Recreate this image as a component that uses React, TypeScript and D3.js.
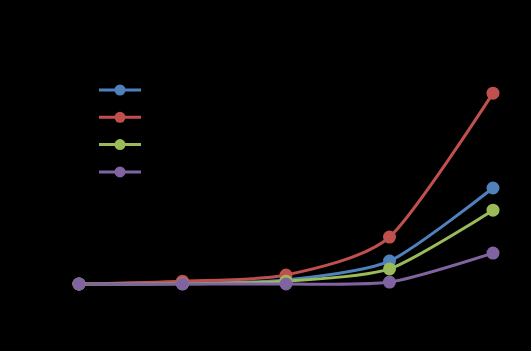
import React from "react";
import * as d3 from "d3";

const width = 531;
const height = 351;
const margin = { top: 55, right: 38, bottom: 67, left: 79 };

const categories = ["1", "2", "3", "4", "5"];
const seriesNames = ["Series 1", "Series 2", "Series 3", "Series 4"];
const seriesColors = ["#4F81BD", "#C0504D", "#9BBB59", "#8064A2"];

const blueValues = [0, 0.2, 2.1, 12, 50.3];
const redValues = [0, 1.5, 4.7, 24.6, 100];
const greenValues = [0, 0.1, 1.5, 7.9, 38.7];
const purpleValues = [0, 0, 0, 1, 16.2];

const allValues = [blueValues, redValues, greenValues, purpleValues];

const xScale = d3
  .scalePoint<string>()
  .domain(categories)
  .range([margin.left, width - margin.right]);

const yScale = d3
  .scaleLinear()
  .domain([0, 120])
  .range([height - margin.bottom, margin.top]);

// Excel-style smoothing ~ cardinal spline
const line = d3
  .line<number>()
  .x((_, i) => xScale(categories[i]) as number)
  .y(d => yScale(d))
  .curve(d3.curveCardinal.tension(0.3));

const legendX = 99;
const legendY = 90;
const legendStep = 27.3;

export default function App() {
  return (
    <svg
      width={width}
      height={height}
      style={{ position: "absolute", left: 0, top: 0 }}
      fontFamily="Liberation Sans, Arial, sans-serif"
    >
      <rect x={0} y={0} width={width} height={height} fill="#000" />

      {/* series lines */}
      {allValues.map((vals, s) => (
        <path
          key={`line-${s}`}
          d={line(vals) || ""}
          fill="none"
          stroke={seriesColors[s]}
          strokeWidth={3}
        />
      ))}

      {/* markers */}
      {allValues.map((vals, s) => (
        <g key={`pts-${s}`}>
          {vals.map((v, i) => (
            <circle
              key={i}
              cx={xScale(categories[i])}
              cy={yScale(v)}
              r={6.5}
              fill={seriesColors[s]}
            />
          ))}
        </g>
      ))}

      {/* legend */}
      {seriesNames.map((name, s) => (
        <g key={name} transform={`translate(${legendX},${legendY + s * legendStep})`}>
          <line x1={0} x2={42} y1={0} y2={0} stroke={seriesColors[s]} strokeWidth={3} />
          <circle cx={21} cy={0} r={5.5} fill={seriesColors[s]} />
          <text x={50} y={4} fontSize={12} fill="#000">
            {name}
          </text>
        </g>
      ))}
    </svg>
  );
}
